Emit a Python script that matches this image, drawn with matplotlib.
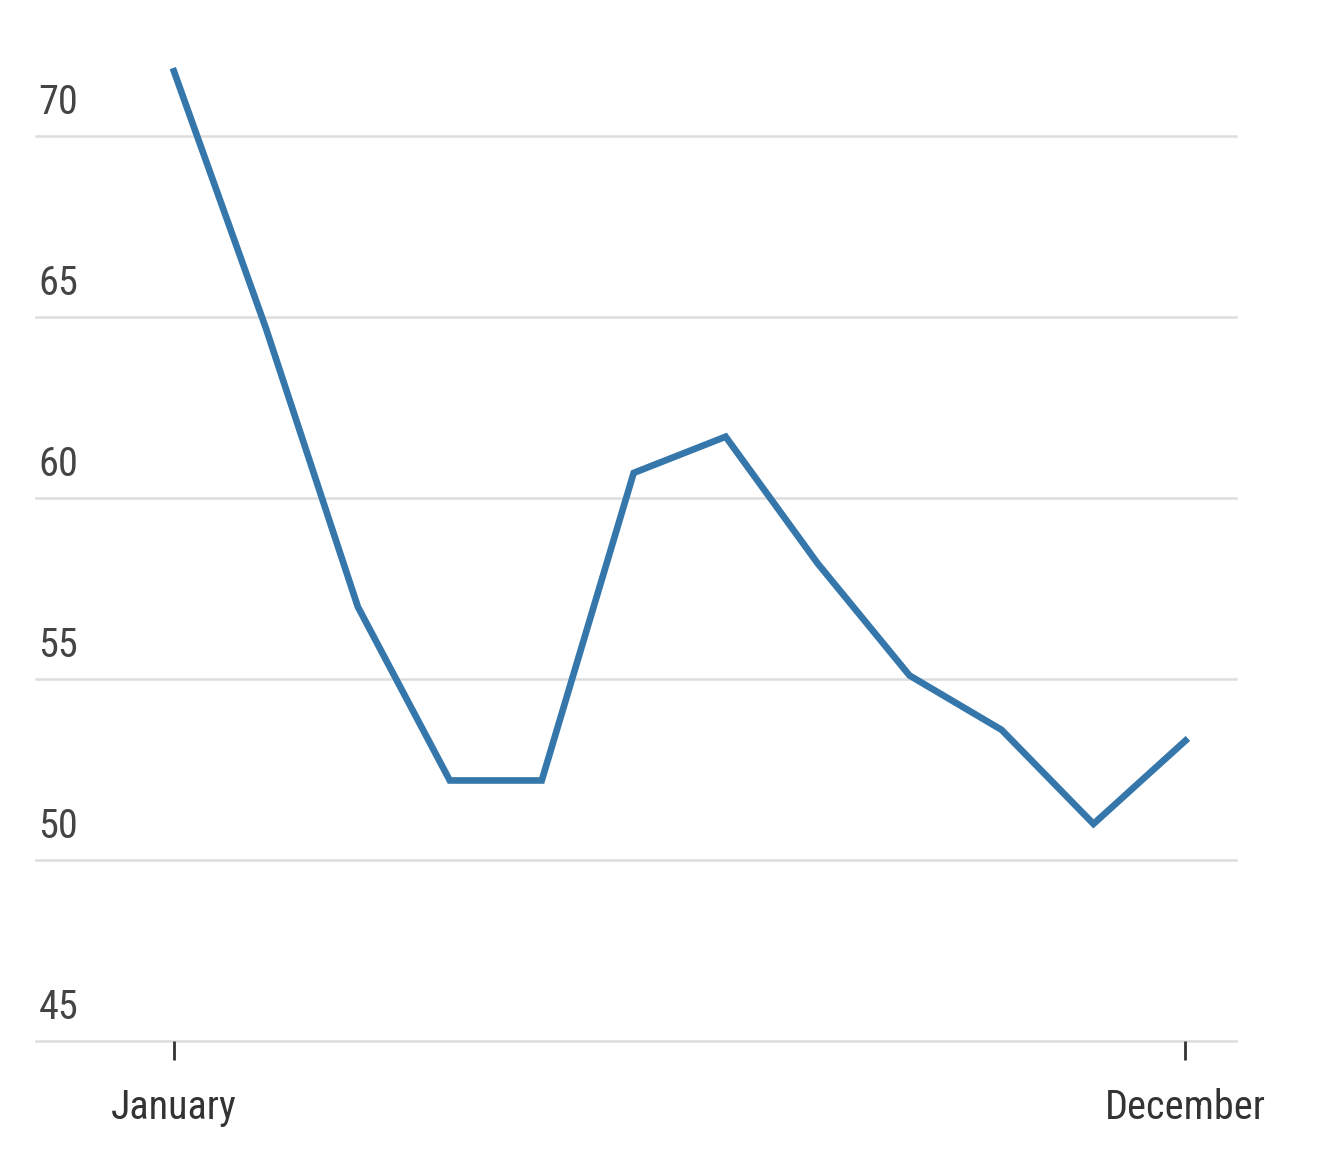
import matplotlib
matplotlib.use("Agg")
import matplotlib.pyplot as plt
from matplotlib.transforms import blended_transform_factory

months = ["January","February","March","April","May","June","July","August","September","October","November","December"]
values = [71.8, 64.7, 57.0, 52.2, 52.2, 60.7, 61.7, 58.2, 55.1, 53.6, 51.0, 53.3]
yticks = [45, 50, 55, 60, 65, 70]
xtick_labels = ["January", "December"]

fam = ['Liberation Sans Narrow', 'Roboto Condensed', 'Roboto', 'DejaVu Sans']
plt.rcParams['font.family'] = fam
fig = plt.figure(figsize=(13.22, 11.6), dpi=100)
ax = fig.add_axes([36/1322, 1-1041/1160, 1200/1322, (1041-64)/1160])
x = list(range(len(months)))
ax.set_xlim(-1.5, 11.55)
ax.set_ylim(45, 72)
for yv in yticks:
    ax.axhline(yv, color="#dddddd", lw=1.8, zorder=1, clip_on=False)
ax.plot(x, values, color="#3677ab", lw=4.8, zorder=3, solid_joinstyle="miter")
tr = blended_transform_factory(ax.transAxes, ax.transData)
for yv in yticks:
    ax.text(0.002, yv + 0.4, str(yv), transform=tr, fontsize=29, color="#444444",
            ha="left", va="bottom")
for s in ax.spines.values():
    s.set_visible(False)
ax.set_yticks([])
ax.set_xticks([0, 11])
ax.set_xticklabels(xtick_labels, fontsize=29, color="#333333")
ax.get_xticklabels()[1].set_ha("center")
ax.tick_params(axis="x", length=14, width=2, color="#333333", pad=20)
fig.savefig("out.png", dpi=100, facecolor="white")
